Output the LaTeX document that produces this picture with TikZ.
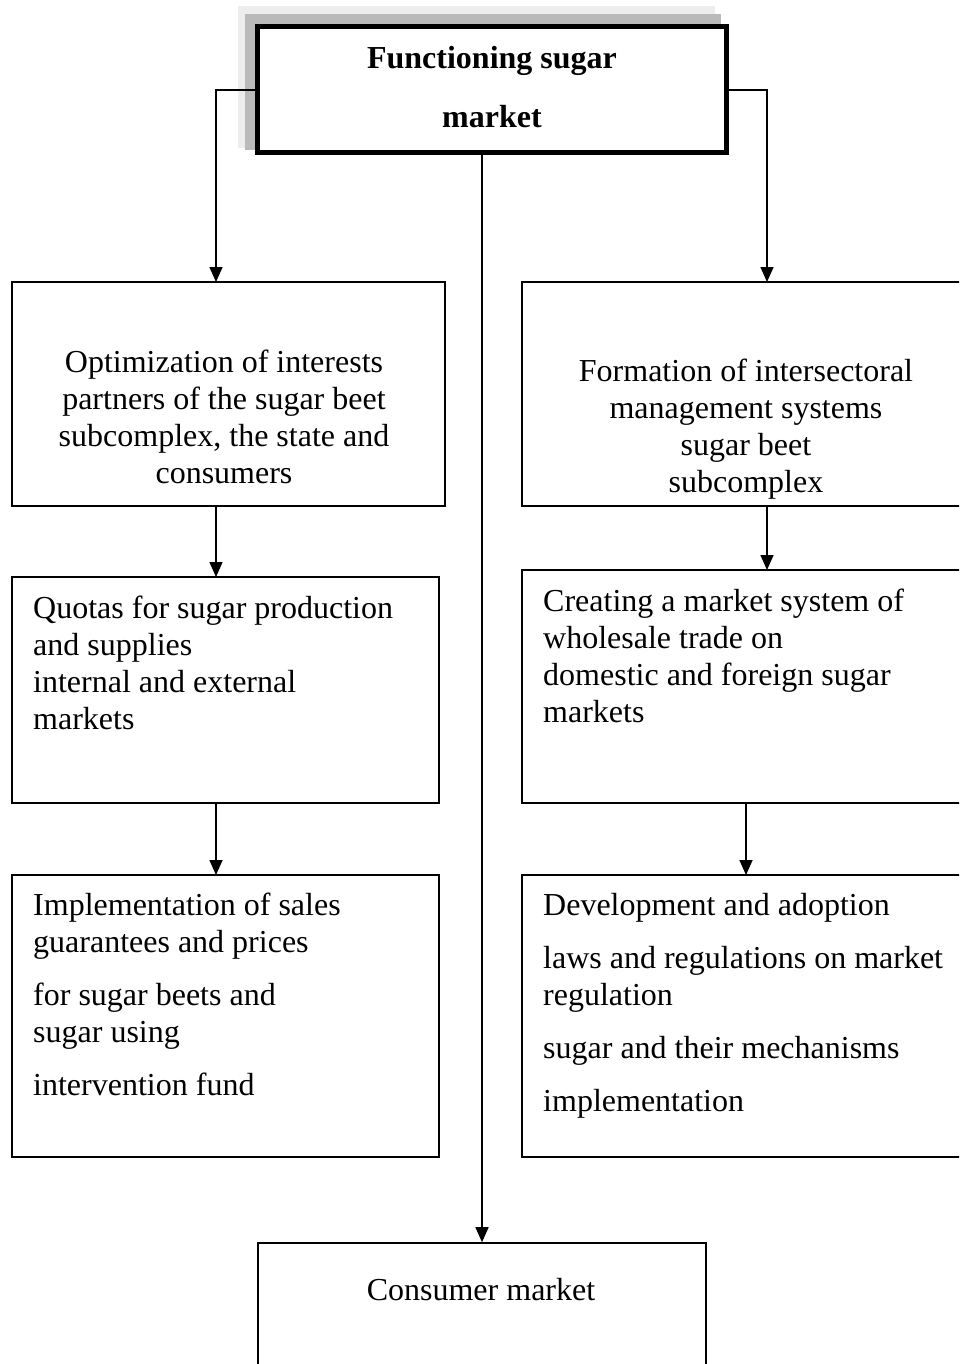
\documentclass[tikz,border=0pt]{standalone}
\usepackage{fontspec}
\setmainfont{Liberation Serif}
\usetikzlibrary{arrows.meta}
\begin{document}
\begin{tikzpicture}[x=1pt,y=-1pt,
  box/.style={draw=black,line width=1.6pt,rectangle,inner sep=0pt},
  arr/.style={draw=black,line width=1.6pt,-{Triangle[length=15pt,width=13pt]}},
  link/.style={draw=black,line width=1.6pt},
  txt/.style={inner sep=0pt,font=\fontsize{32}{37}\selectfont},
  ctxt/.style={txt,align=center,anchor=north},
  ltxt/.style={txt,align=left,anchor=north west}]
\clip (0,0) rectangle (959,1364);
\fill[white] (0,0) rectangle (959,1364);

% shadow behind the title box
\fill[black!7] (238,6) rectangle (715,148);
\fill[black!27] (245,14) rectangle (721,150);
% title box
\node[box,line width=5pt,fill=white,minimum width=469pt,minimum height=126pt] (top) at (491.5,90) {};
\node[txt,font=\fontsize{32}{59}\selectfont\bfseries,align=center,anchor=north] (toptxt) at (492,46) {Functioning sugar\\market};

% left column
\node[box,minimum width=433pt,minimum height=224pt] (l1) at (228.5,394) {};
\node[box,minimum width=427pt,minimum height=226pt] (l2) at (225.5,690) {};
\node[box,minimum width=427pt,minimum height=282pt] (l3) at (225.5,1016) {};
% right column
\node[box,minimum width=453pt,minimum height=224pt] (r1) at (748.5,394) {};
\node[box,minimum width=453pt,minimum height=233pt] (r2) at (748.5,686.5) {};
\node[box,minimum width=453pt,minimum height=282pt] (r3) at (748.5,1016) {};
% bottom box
\node[box,minimum width=448pt,minimum height=140pt] (cons) at (482,1313) {};

% texts
\node[ctxt] (l1t) at (224,350) {Optimization of interests\\partners of the sugar beet\\subcomplex, the state and\\consumers};
\node[ctxt] (r1t) at (746,359) {Formation of intersectoral\\management systems\\sugar beet\\subcomplex};
\node[ltxt] (l2t) at (33,596) {Quotas for sugar production\\and supplies\\internal and external\\markets};
\node[ltxt] (r2t) at (543,589) {Creating a market system of\\wholesale trade on\\domestic and foreign sugar\\markets};
\node[ltxt] (l3t) at (33,893) {Implementation of sales\\guarantees and prices\\[16pt]for sugar beets and\\sugar using\\[16pt]intervention fund};
\node[ltxt] (r3t) at (543,893) {Development and adoption\\[16pt]laws and regulations on market\\regulation\\[16pt]sugar and their mechanisms\\[16pt]implementation};
\node[ctxt] (const) at (481,1278) {Consumer market};

% arrow targets
\coordinate (l1in) at (216,282);
\coordinate (r1in) at (767,282);
\coordinate (l2in) at (216,577);
\coordinate (r2in) at (767,570);
\coordinate (l3in) at (216,875);
\coordinate (r3in) at (746,875);

% connectors
\draw[arr] (top.west) -| (l1in);
\draw[arr] (top.east) -| (r1in);
\draw[arr] (top.south -| cons.north) -- (cons.north);
\draw[arr] (l1.south -| l1in) -- (l2in);
\draw[arr] (r1.south -| r1in) -- (r2in);
\draw[arr] (l2.south -| l3in) -- (l3in);
\draw[arr] (r2.south -| r3in) -- (r3in);
\end{tikzpicture}
\end{document}
